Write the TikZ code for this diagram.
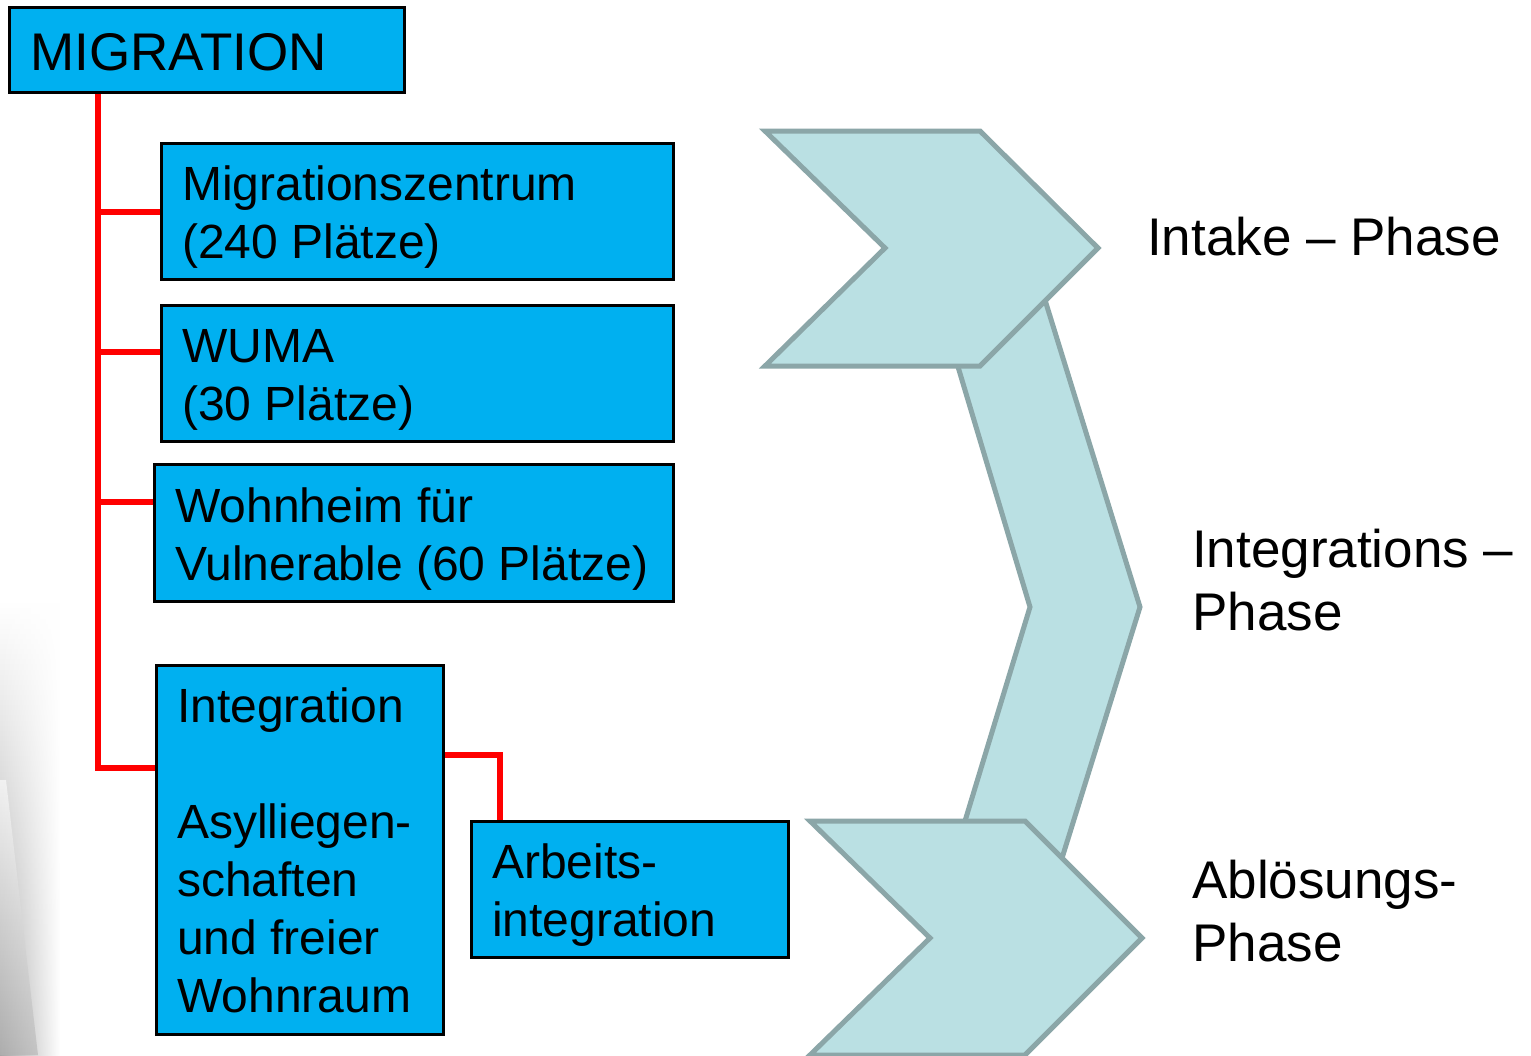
\documentclass[tikz,border=0pt]{standalone}
\usepackage{fontspec}
\setmainfont{Liberation Sans}
\usetikzlibrary{calc,fadings}
\definecolor{boxblue}{HTML}{00B0F0}
\definecolor{chevfill}{HTML}{BAE0E3}
\definecolor{chevline}{HTML}{8BA6A8}
\begin{document}
\begin{tikzpicture}[x=1pt,y=-1pt,
  box/.style={draw=black,line width=2pt,fill=boxblue,inner sep=0pt,anchor=north west},
  txt/.style={anchor=base west,inner sep=0pt,align=left,font=\fontsize{48}{58}\selectfont},
  phase/.style={anchor=base west,inner sep=0pt,align=left,font=\fontsize{53}{63}\selectfont},
  redline/.style={draw=red,line width=6pt,line join=miter},
  chev/.style={fill=chevfill,draw=chevline,line width=5pt,line join=miter}]
\useasboundingbox (0,0) rectangle (1531,1055);
\fill[white] (0,0) rectangle (1531,1055);
\shade[top color=white,bottom color=black!35,path fading=east] (0,600) rectangle (60,1055);
\shade[top color=white,bottom color=black!30,opacity=0.6] (0,780) -- (6,780) -- (38,1055) -- (0,1055) -- cycle;
% connecting band
\path[chev] (938,300) -- (1045,300) -- (1140,607) -- (1049,900) -- (941,900) -- (1030,607) -- cycle;
% chevrons
\path[chev] (765,131) -- (980,131) -- (1098,248) -- (980,366) -- (765,366) -- (885,248) -- cycle;
\path[chev] (810,821) -- (1025,821) -- (1142,938) -- (1025,1055) -- (810,1055) -- (930,938) -- cycle;
% boxes
\node[box,minimum width=394pt,minimum height=84pt] (mig) at (9,7) {};
\node[box,minimum width=511pt,minimum height=135pt] (mz) at (161,143) {};
\node[box,minimum width=511pt,minimum height=135pt] (wuma) at (161,305) {};
\node[box,minimum width=518pt,minimum height=136pt] (wohn) at (154,464) {};
\node[box,minimum width=286pt,minimum height=368pt] (integ) at (156,665) {};
\node[box,minimum width=316pt,minimum height=135pt] (arb) at (471,821) {};
% connectors
\coordinate (spine) at (98,0);
\coordinate (ib) at ($(integ.north west)+(0,103)$);
\coordinate (wb) at ($(wuma.north west)+(0,47)$);
\coordinate (hb) at ($(wohn.north west)+(0,38)$);
\coordinate (ab) at ($(arb.north west)+(29,0)$);
\coordinate (ia) at ($(integ.north east)+(0,90)$);
\draw[redline] (mig.south -| spine) |- (ib);
\draw[redline] (spine |- mz.west) -- (mz.west);
\draw[redline] (spine |- wb) -- (wb);
\draw[redline] (spine |- hb) -- (hb);
\draw[redline] (ia) -| (ab);
% box borders over line ends
\foreach \n in {mig,mz,wuma,wohn,integ,arb}{\draw[line width=2pt] (\n.north west) rectangle (\n.south east);}
% texts (anchor = baseline of last line)
\node[txt,font=\fontsize{53}{63}\selectfont] (migt) at ($(mig.north west)+(21,63)$) {MIGRATION};
\node[txt] (mzt) at ($(mz.north west)+(21,115)$) {Migrationszentrum\\(240 Plätze)};
\node[txt] (wumat) at ($(wuma.north west)+(21,115)$) {WUMA\\(30 Plätze)};
\node[txt] (wohnt) at ($(wohn.north west)+(21,116)$) {Wohnheim für\\Vulnerable (60 Plätze)};
\node[txt] (integt) at ($(integ.north west)+(21,347)$) {Integration\\[58pt]Asylliegen-\\schaften\\und freier\\Wohnraum};
\node[txt] (arbt) at ($(arb.north west)+(21,115)$) {Arbeits-\\integration};
\node[phase] (p1) at (1147,255) {Intake – Phase};
\node[phase] (p2) at (1192,630) {Integrations –\\Phase};
\node[phase] (p3) at (1192,961) {Ablösungs-\\Phase};
\end{tikzpicture}
\end{document}
